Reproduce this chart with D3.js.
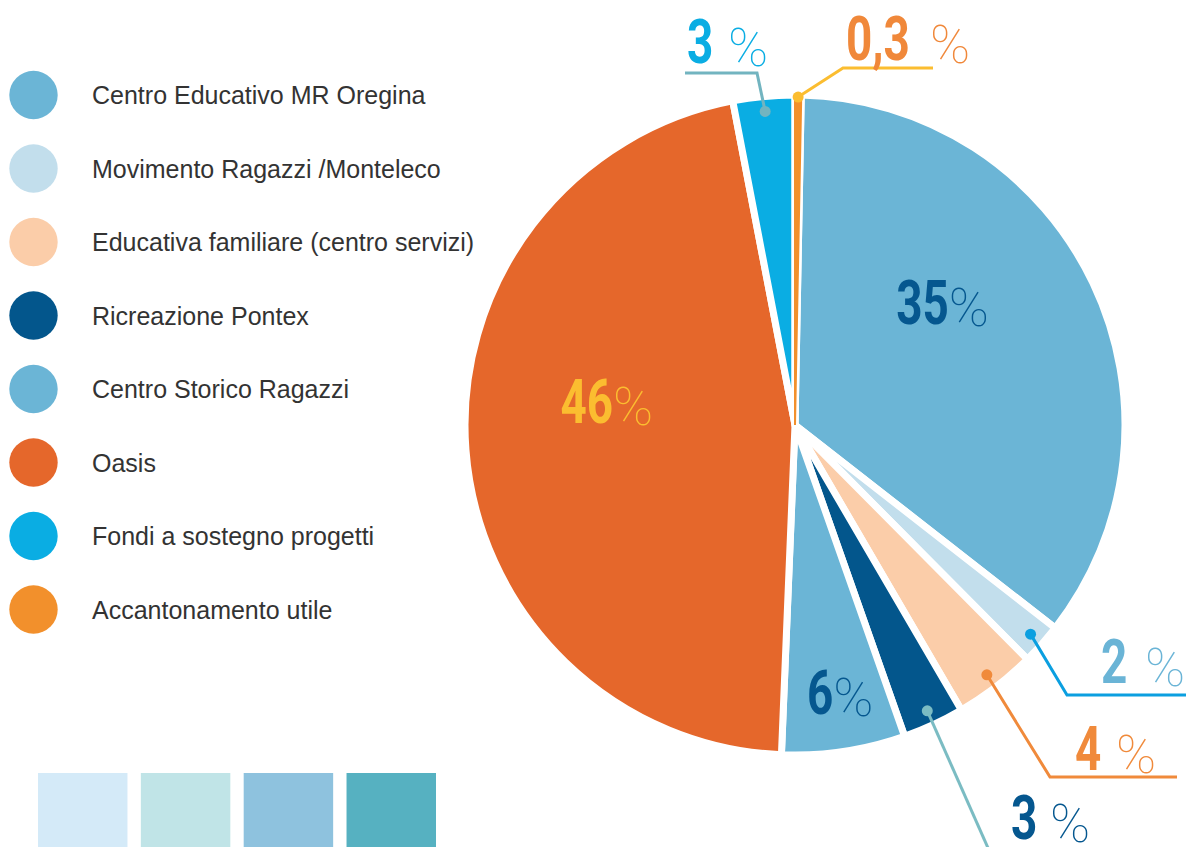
<!DOCTYPE html>
<html>
<head>
<meta charset="utf-8">
<script src="https://cdn.jsdelivr.net/npm/d3@7"></script>
<style>
  body { margin: 0; background: #fff; }
  svg { display: block; }
  .legend text { font-family: "Liberation Sans", Arial, sans-serif; font-size: 25px; fill: #333; }
  .num { font-family: Roboto, "Liberation Sans", sans-serif; font-weight: bold; }
  .pct { font-family: Roboto, "Liberation Sans", sans-serif; font-weight: 100; }
</style>
</head>
<body>
<div id="chart"></div>
<script>
// categories in legend order
const categories = [
  "Centro Educativo MR Oregina",
  "Movimento Ragazzi /Monteleco",
  "Educativa familiare (centro servizi)",
  "Ricreazione Pontex",
  "Centro Storico Ragazzi",
  "Oasis",
  "Fondi a sostegno progetti",
  "Accantonamento utile"
];
// percent shares
const values = [35, 2, 4, 3, 6, 46, 3, 0.3];
const colors = ["#6bb5d6", "#c2deec", "#fbcda9", "#03568c", "#6bb5d6", "#e5672b", "#0aade3", "#f2902c"];
// colour of the number text
const labelColors = ["#05578f", "#6ab4d6", "#f08a3b", "#05578f", "#05578f", "#fbbd30", "#0aade3", "#f0883a"];
// colour of leader line and dot (null = label sits inside the slice)
const lineColors = [null, "#0b9fe0", "#f08a3b", "#7bbcc3", null, null, "#72b4c0", "#fbbd30"];
const swatchColors = ["#d4eaf8", "#c0e4e7", "#8ec2de", "#56b1c1"];

// layout for labels (not data)
const innerLayout = { 0: {shift: -7.8, r: 184}, 4: {shift: 1, r: 292}, 5: {shift: 4.9, r: 182} };
const calloutLayout = {
  1: {ex: 1067, ey: 695, x2: 1186, tx: 1101, ty: 683, px: 1145},
  2: {ex: 1050, ey: 777, x2: 1177, tx: 1075, ty: 770, px: 1116},
  3: {ex: 1000, ey: 875, x2: 1000, tx: 1011, ty: 839, px: 1050},
  6: {ex: 757, ey: 73, x2: 685, tx: 687, ty: 63, px: 728},
  7: {ex: 843, ey: 68, x2: 933, tx: 846, ty: 60, px: 930}
};
const numSize = 62, numScale = 0.74, pctSize = 54;

const W = 1186, H = 847;
const cx = 795, cy = 425, R = 330;

const svg = d3.select("#chart").append("svg")
  .attr("width", W).attr("height", H);

// legend
const legend = svg.append("g").attr("class", "legend");
const ly = d3.scalePoint().domain(d3.range(categories.length)).range([95, 609.5]);
categories.forEach(function(c, i) {
  legend.append("circle")
    .attr("cx", 33.5).attr("cy", ly(i)).attr("r", 24.2)
    .attr("fill", colors[i]);
  legend.append("text")
    .attr("x", 92).attr("y", ly(i)).attr("dy", "0.36em")
    .text(c);
});

// swatches at the bottom
const sx = d3.scaleBand().domain(d3.range(swatchColors.length)).range([38, 436]).paddingInner(0.13);
svg.append("g").selectAll("rect")
  .data(swatchColors)
  .join("rect")
  .attr("x", function(d, i) { return sx(i); })
  .attr("y", 773)
  .attr("width", sx.bandwidth())
  .attr("height", H - 773)
  .attr("fill", function(d) { return d; });

// pie: starts at 12 o'clock with the last slice (Accantonamento)
const total = d3.sum(values);
const start = values[values.length - 1] / total * 2 * Math.PI;
const pie = d3.pie().sort(null).value(function(d) { return d; })
  .startAngle(start).endAngle(start + 2 * Math.PI);
const arcs = pie(values);
const arc = d3.arc().innerRadius(0).outerRadius(R);

const g = svg.append("g").attr("transform", `translate(${cx},${cy})`);
g.selectAll("path.slice")
  .data(arcs)
  .join("path")
  .attr("class", "slice")
  .attr("d", arc)
  .attr("fill", function(d, i) { return colors[i]; })
  .attr("stroke", "#fff")
  .attr("stroke-width", 7)
  .attr("stroke-linejoin", "round");

// very thin slices are redrawn on top so they stay visible
g.selectAll("path.thin")
  .data(arcs.filter(function(d) { return d.endAngle - d.startAngle < 0.035; }))
  .join("path")
  .attr("class", "thin")
  .attr("d", arc)
  .attr("fill", function(d) { return colors[d.index]; })
  .attr("stroke", function(d) { return colors[d.index]; })
  .attr("stroke-width", 2);

function fmt(v) { return String(v).replace(".", ","); }
function polar(a, r) { return [cx + r * Math.sin(a), cy - r * Math.cos(a)]; }

// number drawn narrow, like the hand lettering
function number(x, y, anchor, i) {
  svg.append("text").attr("class", "num")
    .attr("transform", `translate(${x},${y}) scale(${numScale},1)`)
    .attr("text-anchor", anchor)
    .attr("font-size", numSize).attr("fill", labelColors[i])
    .text(fmt(values[i]));
}
function percent(x, y, i) {
  svg.append("text").attr("class", "pct")
    .attr("x", x).attr("y", y)
    .attr("font-size", pctSize).attr("fill", labelColors[i])
    .text("%");
}

// inner labels: the point is where number ends and % begins
Object.keys(innerLayout).forEach(function(k) {
  const i = +k, d = arcs[i], lay = innerLayout[k];
  const a = (d.startAngle + d.endAngle) / 2 + lay.shift * Math.PI / 180;
  const p = polar(a, lay.r);
  number(p[0], p[1], "end", i);
  percent(p[0], p[1] + 2, i);
});

// callouts
Object.keys(calloutLayout).forEach(function(k) {
  const i = +k, d = arcs[i], lay = calloutLayout[k];
  const a = (d.startAngle + d.endAngle) / 2;
  const p = polar(a, i === 7 ? 328 : 315);
  svg.append("polyline")
    .attr("points", [p, [lay.ex, lay.ey], [lay.x2, lay.ey]].map(function(q) { return q.join(","); }).join(" "))
    .attr("fill", "none")
    .attr("stroke", lineColors[i])
    .attr("stroke-width", 3);
  svg.append("circle")
    .attr("cx", p[0]).attr("cy", p[1]).attr("r", 5.5)
    .attr("fill", lineColors[i]);
  number(lay.tx, lay.ty, "start", i);
  percent(lay.px, lay.ty + 3, i);
});
</script>
</body>
</html>
